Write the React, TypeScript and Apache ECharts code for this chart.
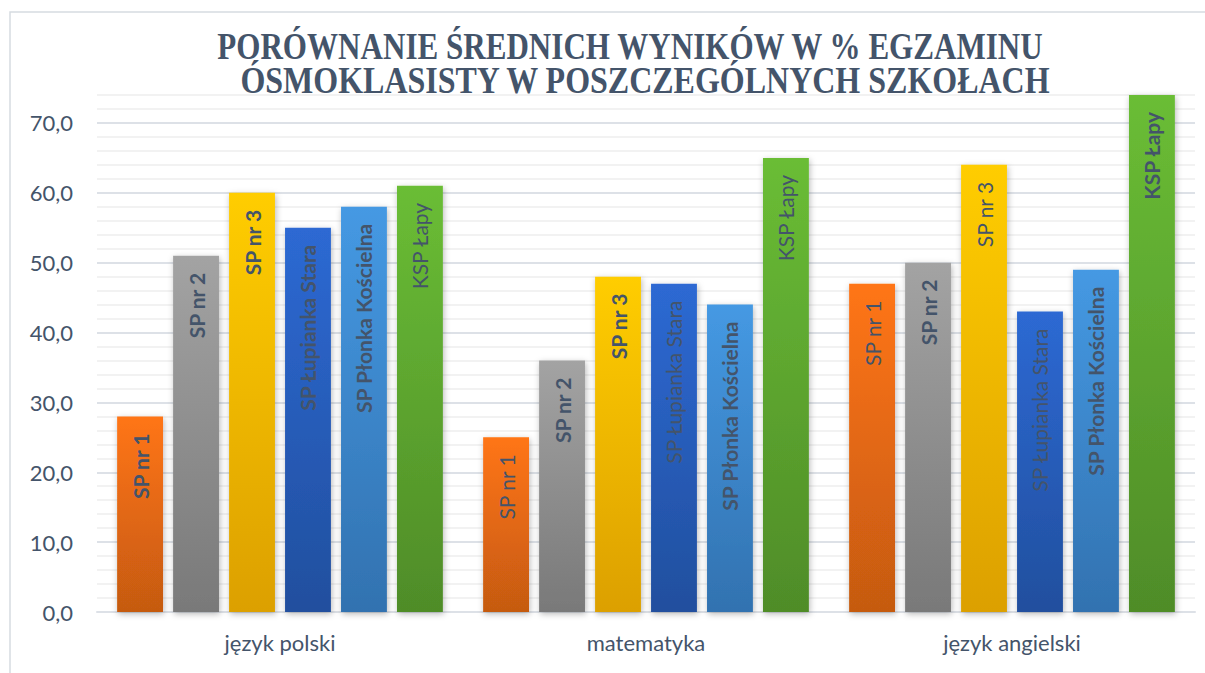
import React, { useEffect, useRef } from "react";
import * as echarts from "echarts";

const titleLine1 = "PORÓWNANIE ŚREDNICH WYNIKÓW W % EGZAMINU";
const titleLine2 = "ÓSMOKLASISTY W POSZCZEGÓLNYCH SZKOŁACH";

const categories = ["język polski", "matematyka", "język angielski"];
const schools = [
  "SP nr 1",
  "SP nr 2",
  "SP nr 3",
  "SP Łupianka Stara",
  "SP Płonka Kościelna",
  "KSP Łapy",
];

const spNr1 = [28, 25, 47];
const spNr2 = [51, 36, 50];
const spNr3 = [60, 48, 64];
const spLupianka = [55, 47, 43];
const spPlonka = [58, 44, 49];
const kspLapy = [61, 65, 74];

const seriesValues = [spNr1, spNr2, spNr3, spLupianka, spPlonka, kspLapy];

// which in-bar labels are bold (per school, per category)
const labelBold = [
  [true, false, false],
  [true, true, true],
  [true, true, false],
  [true, false, false],
  [true, true, true],
  [false, false, true],
];

const barColors = [
  ["#ff7514", "#c55a11"],
  ["#a3a3a3", "#797979"],
  ["#ffcd00", "#dca000"],
  ["#2d69d3", "#214f9e"],
  ["#4599e3", "#3272b0"],
  ["#6abd35", "#4f8c28"],
];

const TEXT = "#44546a";
const FONT = "Lato, 'Open Sans', sans-serif";

export default function App() {
  const ref = useRef<HTMLDivElement>(null);

  useEffect(() => {
    if (!ref.current) return;
    const chart = echarts.init(ref.current, undefined, { renderer: "svg" });

    const series = schools.map((name, i) => ({
      name,
      type: "bar",
      barGap: "22%",
      barCategoryGap: "11%",
      itemStyle: {
        color: new echarts.graphic.LinearGradient(0, 0, 0, 1, [
          { offset: 0, color: barColors[i][0] },
          { offset: 1, color: barColors[i][1] },
        ]),
        shadowBlur: 6,
        shadowColor: "rgba(0,0,0,0.28)",
        shadowOffsetX: 1,
        shadowOffsetY: 2,
      },
      label: {
        show: true,
        position: "insideTop",
        distance: 17,
        rotate: 90,
        align: "right",
        verticalAlign: "middle",
        formatter: () => name,
        color: TEXT,
        fontFamily: FONT,
        fontSize: 21,
      },
      data: seriesValues[i].map((v, j) => ({
        value: v,
        label: { fontWeight: labelBold[i][j] ? "bold" : "normal" },
      })),
    }));

    chart.setOption({
      animation: false,
      backgroundColor: "#ffffff",
      graphic: [
        {
          type: "rect",
          z: -10,
          shape: { x: 10, y: 12, width: 1220, height: 700 },
          style: { fill: "none", stroke: "#d6dbe1", lineWidth: 1.5 },
        },
        {
          type: "text",
          x: 630,
          y: 47,
          scaleX: 0.84,
          z: 10,
          style: {
            text: titleLine1,
            font: "bold 37px 'Liberation Serif', 'Times New Roman', serif",
            fill: TEXT,
            textAlign: "center",
            textVerticalAlign: "middle",
          },
        },
        {
          type: "text",
          x: 645,
          y: 80,
          scaleX: 0.865,
          z: 10,
          style: {
            text: titleLine2,
            font: "bold 37px 'Liberation Serif', 'Times New Roman', serif",
            fill: TEXT,
            textAlign: "center",
            textVerticalAlign: "middle",
          },
        },
      ],
      grid: { left: 97, right: 10, top: 95, bottom: 61, containLabel: false },
      xAxis: {
        type: "category",
        data: categories,
        axisTick: { show: false },
        axisLine: { show: true, lineStyle: { color: "#dde1e7", width: 2 } },
        axisLabel: {
          color: TEXT,
          fontFamily: FONT,
          fontSize: 22,
          margin: 19,
        },
      },
      yAxis: {
        type: "value",
        min: 0,
        max: 74,
        interval: 2,
        axisLine: { show: false },
        axisTick: { show: false },
        axisLabel: {
          color: TEXT,
          fontFamily: FONT,
          fontSize: 22,
          margin: 24,
          formatter: (v: number) =>
            Math.round(v) % 10 === 0 ? v.toFixed(1).replace(".", ",") : "",
        },
        splitLine: {
          show: true,
          lineStyle: {
            width: 2,
            color: ["#dde1e7", "#f2f2f2", "#f2f2f2", "#f2f2f2", "#f2f2f2"],
          },
        },
      },
      series,
    });

    return () => chart.dispose();
  }, []);

  return (
    <div
      ref={ref}
      style={{ position: "fixed", left: 0, top: 0, width: 1205, height: 673 }}
    />
  );
}
